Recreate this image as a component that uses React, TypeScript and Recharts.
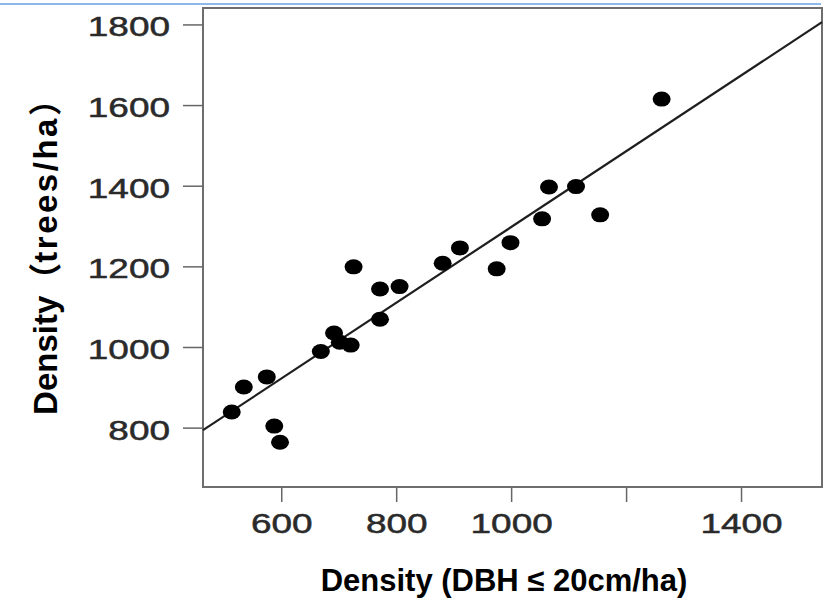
import React from "react";
import {
  ScatterChart,
  Scatter,
  XAxis,
  YAxis,
  ReferenceLine,
  ReferenceArea,
} from "recharts";

// sample plots: small-tree density vs total density
const xDensity = [513, 534, 574, 587, 597, 668, 691, 701, 720, 725, 771, 805, 771, 880, 910, 974, 998, 1053, 1065, 1112, 1154, 1261];
const yDensity = [840, 902, 927, 805, 765, 990, 1036, 1013, 1006, 1200, 1145, 1151, 1070, 1209, 1247, 1195, 1260, 1319, 1398, 1399, 1329, 1616];

const xTicks = [600, 800, 1000, 1200, 1400];
const xTickLabels = ["600", "800", "1000", "", "1400"];
const yTicks = [800, 1000, 1200, 1400, 1600, 1800];

// fitted line  y = a + b*x
const fitIntercept = 360;
const fitSlope = 0.9395;

const xDomain = [463, 1540];
const yDomain = [654, 1842];

const FONT = "'Liberation Sans', Arial, Helvetica, sans-serif";

const points = xDensity.map((x, i) => ({ x, y: yDensity[i] }));

function YTick(props: any) {
  const { x, y, payload } = props;
  return (
    <g transform={`translate(${x},${y}) scale(1.32,1)`}>
      <text x={0} y={11.5} textAnchor="end" fontSize={28} fontFamily={FONT} fill="#2a2a2a" stroke="#2a2a2a" strokeWidth={0.5}>
        {payload.value}
      </text>
    </g>
  );
}

function XTick(props: any) {
  const { x, y, payload } = props;
  const idx = xTicks.indexOf(payload.value);
  const label = idx >= 0 ? xTickLabels[idx] : String(payload.value);
  return (
    <g transform={`translate(${x},${y}) scale(1.32,1)`}>
      <text x={0} y={31} textAnchor="middle" fontSize={28} fontFamily={FONT} fill="#2a2a2a" stroke="#2a2a2a" strokeWidth={0.5}>
        {label}
      </text>
    </g>
  );
}

function Dot(props: any) {
  return <ellipse cx={props.cx} cy={props.cy} rx={9} ry={7.5} fill="#000" />;
}

export default function App() {
  const lineEnds = [
    { x: xDomain[0], y: fitIntercept + fitSlope * xDomain[0] },
    { x: xDomain[1], y: fitIntercept + fitSlope * xDomain[1] },
  ];
  return (
    <div style={{ position: "absolute", left: 0, top: 0, width: 827, height: 598, background: "#fff" }}>
      <div style={{ position: "absolute", left: 0, top: 3, width: 821, height: 2, background: "#8db8ea" }} />
      <ScatterChart width={827} height={598} margin={{ top: 8, right: 5, bottom: 0, left: 0 }}>
        <XAxis
          type="number"
          dataKey="x"
          domain={xDomain}
          allowDataOverflow
          ticks={xTicks}
          height={111}
          axisLine={false}
          tickSize={15}
          tickMargin={0}
          tickLine={{ stroke: "#666", strokeWidth: 1.5 }}
          tick={<XTick />}
          label={{
            content: () => (
              <text x={504} y={591} textAnchor="middle" fontSize={31} fontWeight="bold" fontFamily={FONT} fill="#000">
                Density (DBH ≤ 20cm/ha)
              </text>
            ),
          }}
        />
        <YAxis
          type="number"
          dataKey="y"
          domain={yDomain}
          allowDataOverflow
          ticks={yTicks}
          width={203}
          axisLine={false}
          tickSize={20}
          tickMargin={13}
          tickLine={{ stroke: "#666", strokeWidth: 1.5 }}
          tick={<YTick />}
          label={{
            content: () => (
              <text
                transform="translate(57,249) rotate(-90)"
                textAnchor="middle"
                fontSize={33}
                fontWeight="bold"
                fontFamily={`${FONT}, 'Noto Sans CJK SC'`}
                fill="#000"
              >
                Density（<tspan letterSpacing={2.5}>trees/ha</tspan>）
              </text>
            ),
          }}
        />
        <ReferenceArea
          x1={xDomain[0]}
          x2={xDomain[1]}
          y1={yDomain[0]}
          y2={yDomain[1]}
          fill="none"
          stroke="#6e6e6e"
          strokeWidth={2}
        />
        <ReferenceLine segment={lineEnds} stroke="#1e1e1e" strokeWidth={2.2} />
        <Scatter data={points} shape={<Dot />} isAnimationActive={false} />
      </ScatterChart>
    </div>
  );
}
